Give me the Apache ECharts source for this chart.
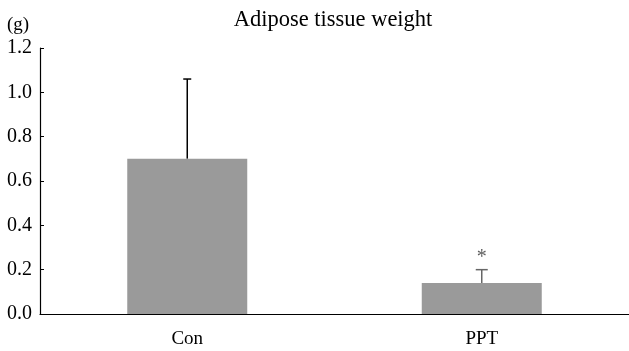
<!DOCTYPE html>
<html>
<head>
<meta charset="utf-8">
<script src="https://cdn.jsdelivr.net/npm/echarts@6/dist/echarts.min.js"></script>
<style>
  html, body { margin: 0; padding: 0; background: #fff; }
  #chart { width: 629px; height: 351px; }
</style>
</head>
<body>
<div id="chart"></div>
<script>
const categories = ["Con", "PPT"];
const means = [0.70, 0.14];
const upperErrors = [1.06, 0.20];
const errorColors = ["#000000", "#666666"];
const marks = ["", "*"];
const yTicks = [0, 0.2, 0.4, 0.6, 0.8, 1.0, 1.2];

const font = "Liberation Serif";
const chart = echarts.init(document.getElementById("chart"));

chart.setOption({
  animation: false,
  title: {
    text: "Adipose tissue weight",
    left: 328,
    textAlign: "center",
    top: 4,
    textStyle: { fontFamily: font, fontSize: 22.5, fontWeight: "normal", color: "#000" },
  },
  graphic: [
    {
      type: "text",
      left: 7,
      top: 16,
      style: { text: "(g)", font: "19px " + font, fill: "#000" },
    },
  ],
  grid: { left: 40, right: 0, top: 48, bottom: 37 },
  xAxis: {
    type: "category",
    data: categories,
    axisLine: { lineStyle: { color: "#000", width: 1.2 } },
    axisTick: { inside: true, length: 4, lineStyle: { color: "#000" } },
    axisLabel: { fontFamily: font, fontSize: 19, color: "#000", margin: 16 },
  },
  yAxis: {
    type: "value",
    min: yTicks[0],
    max: yTicks[yTicks.length - 1],
    interval: 0.2,
    splitLine: { show: false },
    axisLine: { show: true, lineStyle: { color: "#000", width: 1.2 } },
    axisTick: { show: true, inside: true, length: 4, lineStyle: { color: "#000" } },
    axisLabel: {
      fontFamily: font,
      fontSize: 20,
      color: "#000",
      margin: 8,
      formatter: (v) => v.toFixed(1),
    },
  },
  series: [
    {
      type: "custom",
      z: 1,
      data: categories.map((c, i) => [i, means[i], upperErrors[i]]),
      renderItem: (params, api) => {
        const i = api.value(0);
        const base = api.coord([i, api.value(1)]);
        const top = api.coord([i, api.value(2)]);
        const capHalf = i === 0 ? 4 : 6;
        const style = { stroke: errorColors[i], lineWidth: 1.5 };
        return {
          type: "group",
          children: [
            { type: "line", shape: { x1: base[0], y1: base[1], x2: top[0], y2: top[1] }, style },
            { type: "line", shape: { x1: top[0] - capHalf, y1: top[1], x2: top[0] + capHalf, y2: top[1] }, style },
          ],
        };
      },
    },
    {
      type: "bar",
      z: 2,
      data: means,
      barWidth: 120,
      itemStyle: { color: "#9a9a9a" },
    },
    {
      type: "scatter",
      symbolSize: 0,
      data: upperErrors,
      label: {
        show: true,
        position: "top",
        distance: 2,
        formatter: (p) => marks[p.dataIndex],
        fontFamily: font,
        fontSize: 20,
        color: "#333",
      },
    },
  ],
});
</script>
</body>
</html>
